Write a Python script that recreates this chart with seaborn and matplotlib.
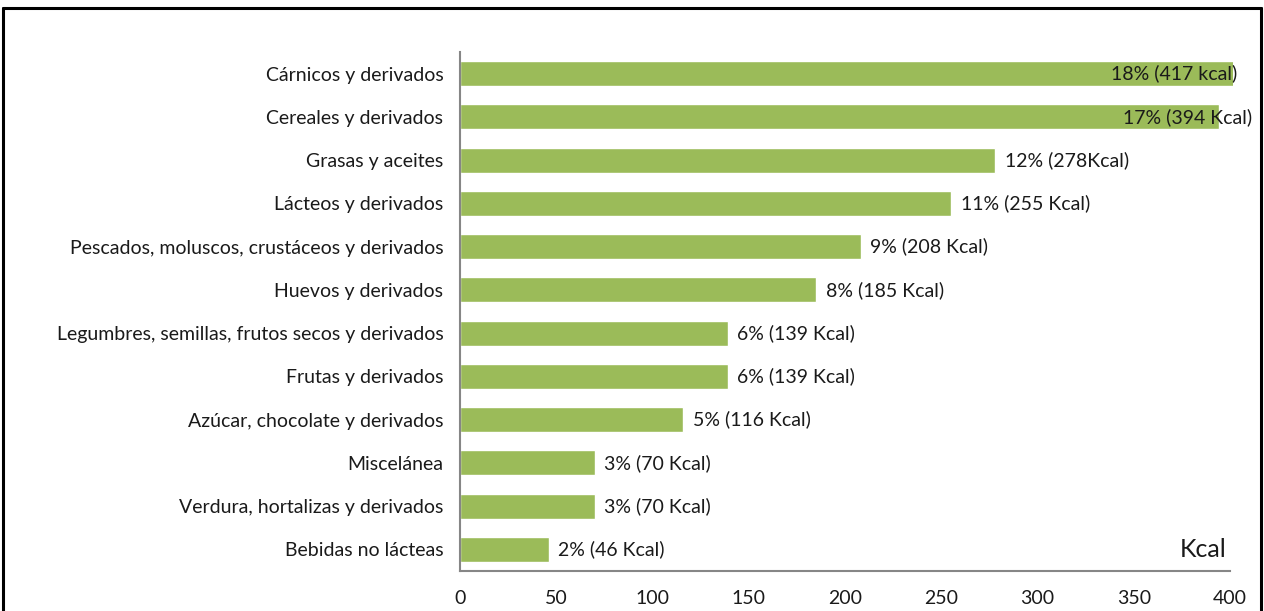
import pandas as pd
import numpy as np
import seaborn as sns
import matplotlib.pyplot as plt
from matplotlib.lines import Line2D

categories = [
    "Cárnicos y derivados",
    "Cereales y derivados",
    "Grasas y aceites",
    "Lácteos y derivados",
    "Pescados, moluscos, crustáceos y derivados",
    "Huevos y derivados",
    "Legumbres, semillas, frutos secos y derivados",
    "Frutas y derivados",
    "Azúcar, chocolate y derivados",
    "Miscelánea",
    "Verdura, hortalizas y derivados",
    "Bebidas no lácteas",
]
kcal = [417, 394, 278, 255, 208, 185, 139, 139, 116, 70, 70, 46]
bar_labels = [
    "18% (417 kcal)", "17% (394 Kcal)", "12% (278Kcal)", "11% (255 Kcal)",
    "9% (208 Kcal)", "8% (185 Kcal)", "6% (139 Kcal)", "6% (139 Kcal)",
    "5% (116 Kcal)", "3% (70 Kcal)", "3% (70 Kcal)", "2% (46 Kcal)",
]

sns.set_style("white")
plt.rcParams["font.family"] = ["Lato", "DejaVu Sans"]

df = pd.DataFrame({"grupo": categories, "kcal": kcal})

fig = plt.figure(figsize=(12.64, 6.11), dpi=100)
ax = fig.add_axes([0.364, 0.0655, 0.6115, 0.8495])
sns.barplot(data=df, y="grupo", x="kcal", color="#9BBB59", width=0.58,
            saturation=1, ax=ax)

ax.set_xlim(0, 401.5)
ax.set_xticks(range(0, 401, 50))
ax.set_xlabel("")
ax.set_ylabel("")
ax.tick_params(axis="both", length=0, labelsize=14, colors="#1a1a1a")
ax.tick_params(axis="y", pad=12)
ax.tick_params(axis="x", pad=14)
sns.despine(ax=ax)
for side in ["left", "bottom"]:
    ax.spines[side].set_color("#868686")
    ax.spines[side].set_linewidth(1.5)
ax.spines["bottom"].set_bounds(0, 400)

# labels; the two longest bars get their label pushed back inside the chart
for i, (v, lab) in enumerate(zip(kcal, bar_labels)):
    if i == 0:
        ax.text(403.6, i, lab, ha="right", va="center", fontsize=14, color="#1a1a1a", clip_on=False)
    elif i == 1:
        ax.text(411.4, i, lab, ha="right", va="center", fontsize=14, color="#1a1a1a", clip_on=False)
    else:
        ax.text(v + 5, i, lab, ha="left", va="center", fontsize=14, color="#1a1a1a")

ax.text(398, 11, "Kcal", ha="right", va="center", fontsize=18, color="#1a1a1a")

# outer frame of the original chart
fig.add_artist(Line2D([0.002, 0.998], [0.987, 0.987], color="black", lw=2.2, transform=fig.transFigure))
fig.add_artist(Line2D([0.0025, 0.0025], [0, 0.987], color="black", lw=2.2, transform=fig.transFigure))
fig.add_artist(Line2D([0.9975, 0.9975], [0, 0.987], color="black", lw=2.2, transform=fig.transFigure))

plt.savefig("out.png", dpi=100)
